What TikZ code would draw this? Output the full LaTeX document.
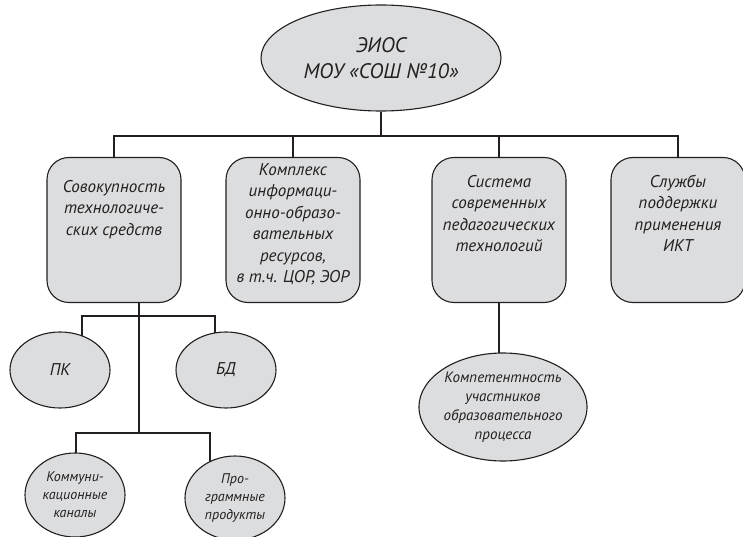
\documentclass[tikz,border=0pt]{standalone}
\usepackage{fontspec}
\setmainfont{PT Sans}
\usepackage{tikz}
\usetikzlibrary{shapes,positioning,backgrounds}
\definecolor{eiosfill}{HTML}{DCDDDE}
\definecolor{eiosink}{HTML}{231F20}

\begin{document}
\begin{tikzpicture}[
    x=1pt, y=-1pt,
    node distance=179pt,
    every node/.style={text=eiosink},
    root/.style={ellipse, draw=eiosink, fill=eiosfill, line width=1.1pt, minimum width=240pt, minimum height=106pt, inner sep=0pt, align=center, font=\fontsize{21}{26}\selectfont\itshape},
    part/.style={rectangle, draw=eiosink, fill=eiosfill, line width=1.1pt, rounded corners=22pt, minimum width=134pt, minimum height=145pt},
    parttext/.style={inner sep=0pt, align=center, font=\fontsize{17}{21.5}\selectfont\itshape},
    leaf/.style={ellipse, draw=eiosink, fill=eiosfill, line width=1.1pt, minimum width=100pt, minimum height=76pt, inner sep=0pt, align=center, font=\fontsize{17}{21}\selectfont\itshape},
    smallleaf/.style={leaf, minimum height=84pt, font=\fontsize{14}{18}\selectfont\itshape},
    link/.style={draw=eiosink, line width=1.1pt}
]
\useasboundingbox (0,0) rectangle (743,537);

% Root
\node[root] (eios) at (381,58) {ЭИОС\\МОУ «СОШ №10»};
\coordinate (bus) at (381,136);

% Components
\node[part] (tech) at (114,230) {};
\node[part, right of=tech] (res) {};
\node[part, right of=res, node distance=206pt] (ped) {};
\node[part, right of=ped] (ikt) {};

\node[parttext, below=23pt of tech.north] (techtext) {Совокупность\\технологиче-\\ских средств};
\node[parttext, below=6pt of res.north] (restext) {Комплекс\\информаци-\\онно-образо-\\вательных\\ресурсов,\\в т.ч. ЦОР, ЭОР};
\node[parttext, below=18pt of ped.north] (pedtext) {Система\\современных\\педагогических\\технологий};
\node[parttext, below=18pt of ikt.north] (ikttext) {Службы\\поддержки\\применения\\ИКТ};

% Leaves
\node[leaf] (pk) at (60,370) {ПК};
\node[leaf] (bd) at (226,370) {БД};
\node[smallleaf] (comm) at (75,495) {Коммуни-\\кационные\\каналы};
\node[smallleaf] (soft) at (235,498) {Про-\\граммные\\продукты};
\node[leaf, minimum width=157pt, minimum height=108pt, font=\fontsize{15}{19}\selectfont\itshape] (komp) at (503,407) {Компетентность\\участников\\образовательного\\процесса};

% Connectors
\coordinate (hub1) at (139,316);
\coordinate (hub2) at (139,433);
\coordinate (pkdrop) at (82,316);
\coordinate (bddrop) at (215,316);
\coordinate (commdrop) at (76,433);
\coordinate (softdrop) at (210,433);
\begin{scope}[on background layer]
  \draw[link] (eios) -- (bus);
  \draw[link] (tech.north) -- (tech.north |- bus) -- (ikt.north |- bus) -- (ikt.north);
  \draw[link] (res.north) -- (res.north |- bus);
  \draw[link] (ped.north) -- (ped.north |- bus);
  \draw[link] (tech.center -| hub1) -- (hub2);
  \draw[link] (pkdrop |- pk.center) -- (pkdrop) -- (bddrop) -- (bddrop |- bd.center);
  \draw[link] (commdrop |- comm.center) -- (commdrop) -- (softdrop) -- (softdrop |- soft.center);
  \draw[link] (ped.center) -- (ped.center |- komp.center);
\end{scope}
\end{tikzpicture}
\end{document}
